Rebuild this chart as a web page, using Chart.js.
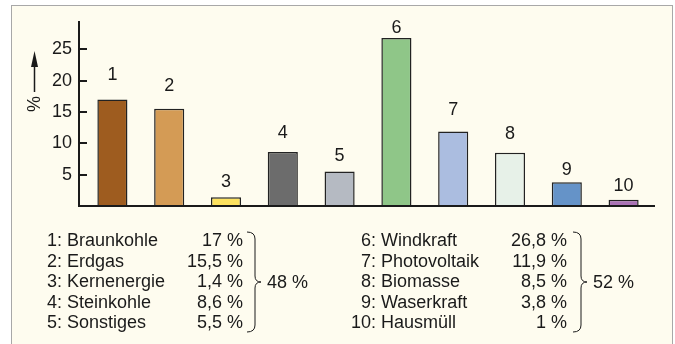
<!DOCTYPE html>
<html>
<head>
<meta charset="utf-8">
<script src="https://cdn.jsdelivr.net/npm/chart.js@4/dist/chart.umd.min.js"></script>
<style>
  body { margin: 0; width: 675px; height: 344px; overflow: hidden; background: #fff;
         font-family: "Liberation Sans", Arial, sans-serif; color: #1a1a1a; }
  #frame { position: absolute; left: 11px; top: 5px; width: 660px; height: 350px;
           border: 1.5px solid #a8a8a8; border-bottom: none; background: #fefcef; }
  #chart { position: absolute; left: 0; top: 0; }
  .t { position: absolute; font-size: 18px; line-height: 20px; white-space: nowrap; }
  svg { position: absolute; left: 0; top: 0; }
</style>
</head>
<body>
<div id="frame"></div>
<canvas id="chart" width="675" height="225"></canvas>
<div id="legend"></div>
<script>
const categories = ["1", "2", "3", "4", "5", "6", "7", "8", "9", "10"];
const names = ["Braunkohle", "Erdgas", "Kernenergie", "Steinkohle", "Sonstiges",
  "Windkraft", "Photovoltaik", "Biomasse", "Waserkraft", "Hausmüll"];
const shares = [17, 15.5, 1.4, 8.6, 5.5, 26.8, 11.9, 8.5, 3.8, 1];
const yTicks = [5, 10, 15, 20, 25];

const barColors = ["#9e5c1f", "#d49b55", "#fde25f", "#6c6c6c", "#b5bac2",
  "#8fc688", "#abbde0", "#e7f1e8", "#6593c8", "#aa72b5"];
const ink = "#1a1a1a";
const font = '"Liberation Sans", Arial, sans-serif';

// axis lines, inward tick marks, the "%" title with arrow and the bar numbers
const axesPlugin = {
  id: "axes",
  afterDatasetsDraw(chart, args, opts) {
    const ctx = chart.ctx;
    const y = chart.scales.y;
    const area = chart.chartArea;
    const ax = area.left - 5;
    const base = y.getPixelForValue(0);
    ctx.save();
    ctx.strokeStyle = ink;
    ctx.lineWidth = 2;
    ctx.beginPath();
    ctx.moveTo(ax, area.top + 3);
    ctx.lineTo(ax, base);
    ctx.lineTo(area.right + 3, base);
    yTicks.forEach(v => {
      const py = Math.round(y.getPixelForValue(v));
      ctx.moveTo(ax, py);
      ctx.lineTo(ax + 8, py);
    });
    ctx.stroke();

    // axis title
    ctx.fillStyle = ink;
    ctx.font = "18px " + font;
    ctx.textAlign = "center";
    ctx.textBaseline = "middle";
    ctx.save();
    ctx.translate(35, 104);
    ctx.rotate(-Math.PI / 2);
    ctx.fillText("%", 0, 0);
    ctx.restore();
    ctx.lineWidth = 1.5;
    ctx.beginPath();
    ctx.moveTo(34.5, 92);
    ctx.lineTo(34.5, 64);
    ctx.stroke();
    ctx.beginPath();
    ctx.moveTo(34.5, 51);
    ctx.lineTo(38, 67);
    ctx.lineTo(31, 67);
    ctx.closePath();
    ctx.fill();

    // category numbers above the bars
    const meta = chart.getDatasetMeta(0);
    meta.data.forEach((bar, i) => {
      ctx.fillText(categories[i], bar.x, bar.y - opts.lift[i]);
    });
    ctx.restore();
  }
};

new Chart(document.getElementById("chart"), {
  type: "bar",
  data: {
    labels: categories,
    datasets: [{
      data: shares,
      backgroundColor: barColors,
      borderColor: "#222",
      borderWidth: 1.5,
      barPercentage: 0.53,
      categoryPercentage: 1
    }]
  },
  options: {
    responsive: false,
    animation: false,
    layout: { padding: { left: 0, right: 23, top: 18, bottom: 19 } },
    plugins: {
      legend: { display: false },
      tooltip: { enabled: false },
      axes: { lift: [24, 23, 15, 19, 16, 10, 21, 19, 12, 14] }
    },
    scales: {
      x: { display: false, offset: true },
      y: {
        min: 0,
        max: 30,
        afterFit(scale) {
          scale.width = 84;
          // keep the plot area exactly where the layout padding puts it
          scale.paddingTop = 0;
          scale.paddingBottom = 0;
        },
        afterBuildTicks(scale) { scale.ticks = yTicks.map(v => ({ value: v })); },
        grid: { display: false, drawTicks: false },
        border: { display: false },
        ticks: { padding: 12, color: ink, font: { family: font, size: 18 } }
      }
    }
  },
  plugins: [axesPlugin]
});

// two legend blocks, each closed by a brace with the group total
const legend = document.getElementById("legend");
const fmt = v => String(v).replace(".", ",") + " %";
const groups = [
  { from: 0, to: 5, numRight: 62, valRight: 243, brace: 247 },
  { from: 5, to: 10, numRight: 376, valRight: 567, brace: 573 }
];
const rowTop = 230, rowStep = 20.5;
let svg = '<svg width="675" height="344">';
groups.forEach(g => {
  let total = 0;
  for (let i = g.from; i < g.to; i++) {
    const top = rowTop + (i - g.from) * rowStep;
    total += shares[i];
    legend.insertAdjacentHTML("beforeend",
      `<div class="t" style="top:${top}px;right:${675 - g.numRight}px">${categories[i]}:</div>` +
      `<div class="t" style="top:${top}px;left:${g.numRight + 5}px">${names[i]}</div>` +
      `<div class="t" style="top:${top}px;right:${675 - g.valRight}px">${fmt(shares[i])}</div>`);
  }
  const t = 232, b = 332, m = (t + b) / 2, x0 = g.brace, x1 = g.brace + 8, x2 = g.brace + 14;
  svg += `<path d="M${x0},${t} Q${x1},${t} ${x1},${t + 7} L${x1},${m - 6} Q${x1},${m} ${x2},${m}` +
    ` Q${x1},${m} ${x1},${m + 6} L${x1},${b - 7} Q${x1},${b} ${x0},${b}" fill="none" stroke="${ink}" stroke-width="1"/>`;
  legend.insertAdjacentHTML("beforeend",
    `<div class="t" style="top:${m - 10}px;left:${x2 + 6}px">${fmt(Math.round(total))}</div>`);
});
svg += "</svg>";
legend.insertAdjacentHTML("afterbegin", svg);
</script>
</body>
</html>
